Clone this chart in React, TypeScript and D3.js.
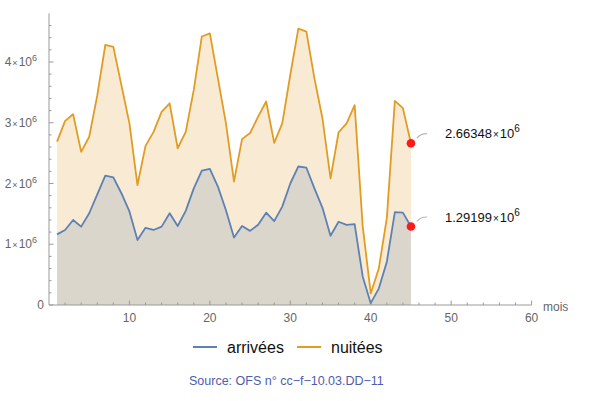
import React from "react";
import * as d3 from "d3";

const months: number[] = Array.from({ length: 45 }, (_, i) => i + 1);
const arrivees: number[] = [
  1.163, 1.235, 1.40, 1.29, 1.51, 1.82, 2.13, 2.10, 1.84, 1.54,
  1.07, 1.27, 1.235, 1.29, 1.51, 1.30, 1.55, 1.92, 2.21, 2.24,
  1.95, 1.56, 1.11, 1.30, 1.22, 1.32, 1.52, 1.38, 1.62, 2.00,
  2.28, 2.26, 1.92, 1.60, 1.14, 1.37, 1.32, 1.33, 0.47, 0.03,
  0.27, 0.71, 1.53, 1.52, 1.29199,
].map((v) => v * 1e6);
const nuitees: number[] = [
  2.69, 3.03, 3.14, 2.52, 2.77, 3.45, 4.28, 4.25, 3.62, 2.99,
  1.975, 2.62, 2.85, 3.18, 3.32, 2.58, 2.85, 3.54, 4.42, 4.47,
  3.73, 2.99, 2.03, 2.73, 2.83, 3.10, 3.35, 2.67, 2.99, 3.79,
  4.55, 4.50, 3.73, 3.07, 2.085, 2.84, 2.99, 3.29, 1.30, 0.19,
  0.60, 1.43, 3.36, 3.24, 2.66348,
].map((v) => v * 1e6);
const xMajor: number[] = [10, 20, 30, 40, 50, 60];
const yMajor: number[] = [0, 1, 2, 3, 4];
const lastLabels: string[] = ["1.29199", "2.66348"];
const seriesNames: string[] = ["arrivées", "nuitées"];

const BLUE = "#5E81B5";
const ORANGE = "#E19C24";
const AXIS = "#9a9a9a";
const TICKTXT = "#666";

export default function App() {
  const x = d3.scaleLinear().domain([0, 60]).range([49, 531.6]);
  const y = d3.scaleLinear().domain([0, 4.8e6]).range([305, 13.4]);

  const line = (vals: number[]) =>
    d3.line<number>().x((_, i) => x(months[i])).y((d) => y(d))(vals) || "";
  const area = (vals: number[]) =>
    d3
      .area<number>()
      .x((_, i) => x(months[i]))
      .y0(y(0))
      .y1((d) => y(d))(vals) || "";

  const xMinor = d3.range(2, 60, 2).filter((v) => v % 10 !== 0);
  const yMinor = d3.range(0.2, 4.8, 0.2).filter((v) => Math.abs(v - Math.round(v)) > 1e-6);

  const font = "'Liberation Sans', Arial, sans-serif";
  const lastI = months.length - 1;
  const series = [
    { vals: arrivees, color: BLUE, label: lastLabels[0] },
    { vals: nuitees, color: ORANGE, label: lastLabels[1] },
  ];

  return (
    <svg width={600} height={401} style={{ position: "absolute", left: 0, top: 0 }} fontFamily={font}>
      {/* fills */}
      <path d={area(nuitees)} fill={ORANGE} fillOpacity={0.2} />
      <path d={area(arrivees)} fill={BLUE} fillOpacity={0.2} />
      {/* axes */}
      <line x1={x(0)} x2={x(60)} y1={y(0)} y2={y(0)} stroke={AXIS} strokeWidth={1} />
      <line x1={x(0)} x2={x(0)} y1={y(0)} y2={y(4.8e6)} stroke={AXIS} strokeWidth={1} />
      {xMajor.map((v) => (
        <g key={"xm" + v}>
          <line x1={x(v)} x2={x(v)} y1={y(0)} y2={y(0) - 4.5} stroke={AXIS} />
          <text x={x(v)} y={322} textAnchor="middle" fontSize={12} fill={TICKTXT}>{v}</text>
        </g>
      ))}
      {xMinor.map((v) => (
        <line key={"xn" + v} x1={x(v)} x2={x(v)} y1={y(0)} y2={y(0) - 2.5} stroke={AXIS} />
      ))}
      {yMajor.map((v) => (
        <g key={"ym" + v}>
          <line x1={x(0)} x2={x(0) + 4.5} y1={y(v * 1e6)} y2={y(v * 1e6)} stroke={AXIS} />
          {v === 0 ? (
            <text x={44} y={y(0) + 4} textAnchor="end" fontSize={12} fill={TICKTXT}>0</text>
          ) : (
            <text x={37} y={y(v * 1e6) + 4} textAnchor="end" fontSize={12} fill={TICKTXT}>
              {v}
              <tspan fontSize={9} dx={1}>×</tspan>
              <tspan dx={1}>10</tspan>
              <tspan fontSize={9} dy={-5}>6</tspan>
            </text>
          )}
        </g>
      ))}
      {yMinor.map((v) => (
        <line key={"yn" + v} x1={x(0)} x2={x(0) + 2.5} y1={y(v * 1e6)} y2={y(v * 1e6)} stroke={AXIS} />
      ))}
      <text x={543} y={311} fontSize={12} fill={TICKTXT}>mois</text>
      {/* lines */}
      {series.map((s, k) => (
        <path key={"l" + k} d={line(s.vals)} fill="none" stroke={s.color} strokeWidth={1.8} strokeLinejoin="round" />
      ))}
      {/* end points and callouts */}
      {series.map((s, k) => {
        const px = x(months[lastI]);
        const py = y(s.vals[lastI]);
        return (
          <g key={"c" + k}>
            <path
              d={`M ${px + 6} ${py - 5} Q ${px + 9} ${py - 9.5} ${px + 16} ${py - 9.5}`}
              fill="none"
              stroke="#b5b5b5"
              strokeWidth={1.2}
            />
            <circle cx={px} cy={py} r={4.3} fill="#FF1A1A" />
            <text x={445} y={py - 5} fontSize={13} fill="#111">
              {s.label}
              <tspan fontSize={10} dx={1}>×</tspan>
              <tspan dx={1}>10</tspan>
              <tspan fontSize={10} dy={-6}>6</tspan>
            </text>
          </g>
        );
      })}
      {/* legend */}
      <line x1={193} x2={217} y1={347} y2={347} stroke={BLUE} strokeWidth={2} />
      <text x={227} y={352.5} fontSize={16} fill="#111">{seriesNames[0]}</text>
      <line x1={297} x2={321} y1={347} y2={347} stroke={ORANGE} strokeWidth={2} />
      <text x={331} y={352.5} fontSize={16} fill="#111">{seriesNames[1]}</text>
      <text x={189} y={385} fontSize={12.5} fill="#4E5DAE">Source: OFS n° cc−f−10.03.DD−11</text>
    </svg>
  );
}
